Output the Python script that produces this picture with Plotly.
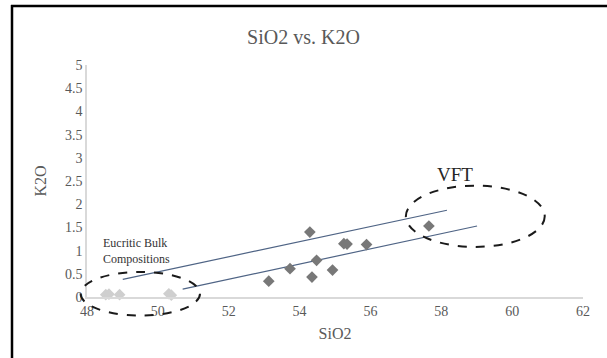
import plotly.graph_objects as go

# ---- data ----
vft_sio2 = [53.13, 53.73, 54.29, 54.35, 54.48, 54.93, 55.25, 55.34, 55.89, 57.65]
vft_k2o = [0.34, 0.61, 1.40, 0.43, 0.79, 0.58, 1.15, 1.14, 1.13, 1.53]

eucrite_sio2 = [48.53, 48.62, 48.92, 50.31, 50.38]
eucrite_k2o = [0.05, 0.06, 0.05, 0.07, 0.04]

upper_line_x = [49.01, 58.16]
upper_line_y = [0.38, 1.87]
lower_line_x = [50.70, 59.01]
lower_line_y = [0.17, 1.53]

x_ticks = [48, 50, 52, 54, 56, 58, 60, 62]
y_ticks = [0, 0.5, 1, 1.5, 2, 2.5, 3, 3.5, 4, 4.5, 5]
y_tick_labels = ["0", "0.5", "1", "1.5", "2", "2.5", "3", "3.5", "4", "4.5", "5"]

# ellipse outlines (data units): x0, x1, y0, y1
eucrite_ellipse = [47.82, 51.19, -0.40, 0.54]
vft_ellipse = [57.00, 60.92, 1.08, 2.40]

X_RANGE = [48, 62]
Y_RANGE = [0, 5]

FONT = "Liberation Serif, Times New Roman, serif"
GRAY = "#595959"


def px(x):
    return (x - X_RANGE[0]) / (X_RANGE[1] - X_RANGE[0])


def py(y):
    return (y - Y_RANGE[0]) / (Y_RANGE[1] - Y_RANGE[0])


fig = go.Figure()

fig.add_trace(go.Scatter(
    x=upper_line_x, y=upper_line_y, mode="lines",
    line=dict(color="#4f6485", width=1.2), showlegend=False, hoverinfo="skip"))
fig.add_trace(go.Scatter(
    x=lower_line_x, y=lower_line_y, mode="lines",
    line=dict(color="#4f6485", width=1.2), showlegend=False, hoverinfo="skip"))

fig.add_trace(go.Scatter(
    x=eucrite_sio2, y=eucrite_k2o, mode="markers",
    marker=dict(symbol="diamond", size=9, color="#cfcfcf"),
    cliponaxis=False, showlegend=False))
fig.add_trace(go.Scatter(
    x=vft_sio2, y=vft_k2o, mode="markers",
    marker=dict(symbol="diamond", size=9, color="#787878"),
    cliponaxis=False, showlegend=False))

shapes = []
for (x0, x1, y0, y1), dash in [(eucrite_ellipse, "dash"), (vft_ellipse, "dash")]:
    shapes.append(dict(type="circle", xref="paper", yref="paper",
                       x0=px(x0), x1=px(x1), y0=py(y0), y1=py(y1),
                       line=dict(color="#1a1a1a", width=2, dash=dash)))

# chart frame (top and left edges of the cropped chart border)
L, R, T, B = 87, 24, 65, 61
W, H = 607, 358
pw, ph = W - L - R, H - T - B


def fx(pxl):
    return (pxl - L) / pw


def fy(pyl):
    return (H - B - pyl) / ph


shapes.append(dict(type="line", xref="paper", yref="paper",
                   x0=fx(11), x1=fx(610), y0=fy(6), y1=fy(6),
                   line=dict(color="black", width=2.5)))
shapes.append(dict(type="line", xref="paper", yref="paper",
                   x0=fx(12), x1=fx(12), y0=fy(5), y1=fy(360),
                   line=dict(color="black", width=2.5)))

annotations = [
    dict(text="VFT", xref="x", yref="y", x=58.38, y=2.65, showarrow=False,
         font=dict(family=FONT, size=19, color="#262626")),
    dict(text="Eucritic Bulk<br>Compositions", xref="paper", yref="paper",
         x=fx(101), y=fy(234), xanchor="left", yanchor="top", align="left",
         showarrow=False, font=dict(family=FONT, size=12, color="#333333")),
]

fig.update_layout(
    width=W, height=H,
    margin=dict(l=L, r=R, t=T, b=B, autoexpand=False),
    paper_bgcolor="white", plot_bgcolor="white",
    title=dict(text="SiO2 vs. K2O", x=0.5, xanchor="center", y=1 - 37 / H,
               yanchor="middle", font=dict(family=FONT, size=20, color=GRAY)),
    xaxis=dict(range=X_RANGE, tickvals=x_ticks, showgrid=False, zeroline=False,
               showline=True, linecolor="#d9d9d9", linewidth=1.5, ticks="",
               tickfont=dict(family=FONT, size=14, color=GRAY),
               title=dict(text="SiO2", standoff=10,
                          font=dict(family=FONT, size=16, color=GRAY))),
    yaxis=dict(range=Y_RANGE, tickvals=y_ticks, ticktext=y_tick_labels,
               showgrid=False, zeroline=False,
               showline=True, linecolor="#d9d9d9", linewidth=1.5, ticks="",
               tickfont=dict(family=FONT, size=14, color=GRAY),
               title=dict(text="K2O", standoff=14,
                          font=dict(family=FONT, size=16, color=GRAY))),
    shapes=shapes,
    annotations=annotations,
)

fig.write_html("out.html",
               config={"displayModeBar": False},
               post_script="document.body.style.margin='0';"
                           "document.body.style.overflow='hidden';")
